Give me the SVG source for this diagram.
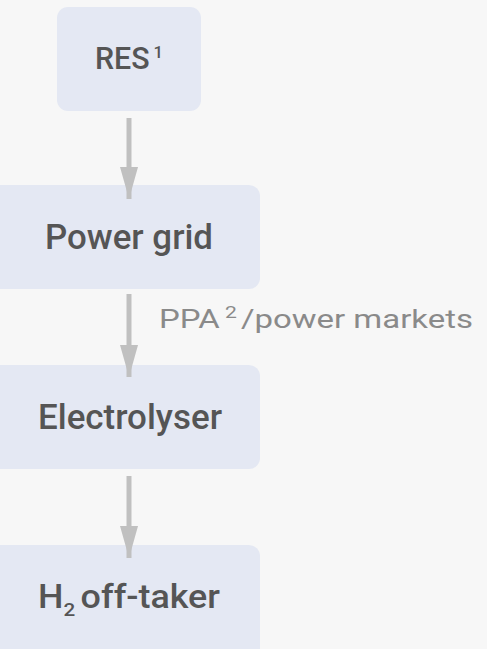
<svg xmlns="http://www.w3.org/2000/svg" width="487" height="649" viewBox="0 0 487 649">
  <style>
    .box { fill: #e4e8f3; }
    .lbl { font-family: Roboto, "Open Sans", "Liberation Sans", sans-serif; fill: #555555; text-anchor: middle; font-weight: 500; }
    .edge { stroke: #c0c0c0; stroke-width: 5; fill: none; }
    .note { font-family: Roboto, "Open Sans", "Liberation Sans", sans-serif; fill: #8a8a8a; font-size: 25px; }
  </style>
  <defs>
    <marker id="ah" markerUnits="userSpaceOnUse" markerWidth="34" markerHeight="20" refX="32" refY="10" orient="auto">
      <path d="M0,1 L32,10 L0,19 Z" fill="#c0c0c0"/>
    </marker>
  </defs>
  <rect width="487" height="649" fill="#f7f7f7"/>
  <g id="node-res">
    <rect class="box" x="57" y="7" width="144" height="104" rx="11"/>
    <text class="lbl" x="129" y="69" font-size="31" textLength="68" lengthAdjust="spacingAndGlyphs">RES<tspan font-size="17" dy="-11" dx="4">1</tspan></text>
  </g>
  <g id="node-grid">
    <rect class="box" x="-12" y="185" width="272" height="104" rx="11"/>
    <text class="lbl" x="129" y="249" font-size="35" textLength="168" lengthAdjust="spacingAndGlyphs">Power grid</text>
  </g>
  <g id="node-electrolyser">
    <rect class="box" x="-12" y="365" width="272" height="104" rx="11"/>
    <text class="lbl" x="130" y="429" font-size="35" textLength="184" lengthAdjust="spacingAndGlyphs">Electrolyser</text>
  </g>
  <g id="node-offtaker">
    <rect class="box" x="-12" y="545" width="272" height="115" rx="11"/>
    <text class="lbl" x="129" y="608" font-size="33" textLength="182" lengthAdjust="spacingAndGlyphs">H<tspan font-size="19" dy="8">2</tspan><tspan dy="-8" dx="5">off-taker</tspan></text>
  </g>
  <g id="connectors">
    <line class="edge" x1="129" y1="118" x2="129" y2="199" marker-end="url(#ah)"/>
    <line class="edge" x1="129" y1="294" x2="129" y2="377" marker-end="url(#ah)"/>
    <line class="edge" x1="129" y1="476" x2="129" y2="558" marker-end="url(#ah)"/>
    <text class="note" x="159" y="328" textLength="314" lengthAdjust="spacingAndGlyphs">PPA<tspan font-size="16" dy="-10" dx="4">2</tspan><tspan dy="10" dx="3">/power markets</tspan></text>
  </g>
</svg>
